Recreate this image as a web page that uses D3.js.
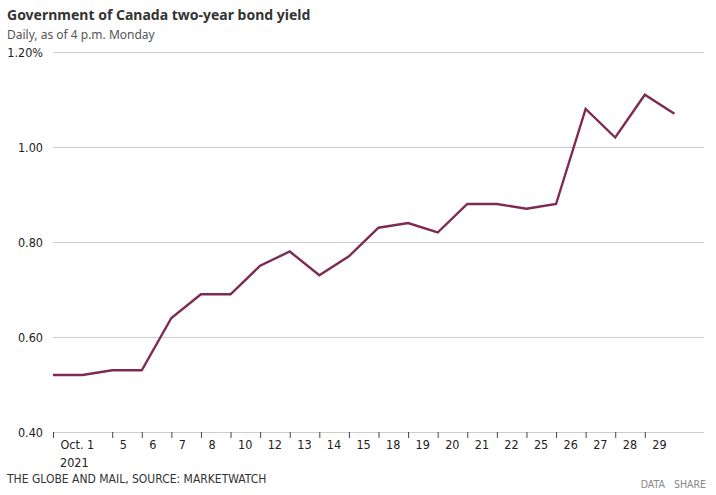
<!DOCTYPE html>
<html>
<head>
<meta charset="utf-8">
<script src="https://cdn.jsdelivr.net/npm/d3@7"></script>
<style>
  body { margin: 0; background: #fff; }
  svg { display: block; }
</style>
</head>
<body>
<div id="chart"></div>
<script>
// daily yields (%), one per trading day in order
const yields = [0.52, 0.52, 0.53, 0.53, 0.64, 0.69, 0.69, 0.75, 0.78, 0.73, 0.77,
                0.83, 0.84, 0.82, 0.88, 0.88, 0.87, 0.88, 1.08, 1.02, 1.11, 1.07];
// tick positions (index into yields) and their labels
const tickIndex = [0, 2, 3, 4, 5, 6, 7, 8, 9, 10, 11, 12, 13, 14, 15, 16, 17, 18, 19, 20];
const tickLabels = ["Oct. 1", "5", "6", "7", "8", "10", "12", "13", "14", "15",
                    "18", "19", "20", "21", "22", "25", "26", "27", "28", "29"];
const yTicks = [0.4, 0.6, 0.8, 1.0, 1.2];

const width = 716, height = 495;
const margin = {top: 52, right: 12, bottom: 63, left: 53};

const svg = d3.select("#chart").append("svg")
    .attr("width", width)
    .attr("height", height)
    .style("font-family", "'Noto Sans', sans-serif");

const x = d3.scaleLinear().domain([0, 22]).range([margin.left, width - margin.right]);
const y = d3.scaleLinear().domain([0.4, 1.2]).range([height - margin.bottom, margin.top]);

// title + subtitle
svg.append("text")
    .attr("x", 7).attr("y", 20)
    .attr("fill", "#333")
    .style("font-size", "14px")
    .style("font-weight", "bold")
    .text("Government of Canada two-year bond yield");

svg.append("text")
    .attr("x", 7).attr("y", 39)
    .attr("fill", "#555")
    .style("font-size", "12px")
    .text("Daily, as of 4 p.m. Monday");

// gridlines + y labels
const yAxis = d3.axisLeft(y)
    .tickValues(yTicks)
    .tickSize(-(width - margin.right - margin.left))
    .tickPadding(10)
    .tickFormat(d => d === 1.2 ? "1.20%" : d3.format(".2f")(d));

svg.append("g")
    .attr("class", "y axis")
    .attr("transform", `translate(${margin.left},0)`)
    .call(yAxis)
    .call(g => g.select(".domain").remove())
    .call(g => g.selectAll("line").attr("stroke", "#ccc"))
    .call(g => g.selectAll("text")
        .attr("fill", "#222")
        .style("font-size", "12.5px")
        .style("font-family", "'DejaVu Sans Condensed', 'DejaVu Sans', sans-serif"));

// x axis ticks with labels to the right of each tick
const xAxis = d3.axisBottom(x)
    .tickValues(tickIndex)
    .tickSize(6)
    .tickFormat((d, i) => tickLabels[i]);

const gx = svg.append("g")
    .attr("class", "x axis")
    .attr("transform", `translate(0,${height - margin.bottom})`)
    .call(xAxis)
    .call(g => g.select(".domain").remove())
    .call(g => g.selectAll("line").attr("stroke", "#444"));

gx.selectAll("text")
    .attr("text-anchor", "start")
    .attr("x", 7)
    .attr("y", 8)
    .attr("fill", "#222")
    .style("font-size", "12.5px")
    .style("font-family", "'DejaVu Sans Condensed', 'DejaVu Sans', sans-serif");

gx.append("text")
    .attr("x", x(0) + 7)
    .attr("y", 35)
    .attr("fill", "#222")
    .attr("text-anchor", "start")
    .style("font-size", "12.5px")
    .style("font-family", "'DejaVu Sans Condensed', 'DejaVu Sans', sans-serif")
    .text("2021");

// the line
const line = d3.line()
    .x((d, i) => x(i))
    .y(d => y(d));

svg.append("path")
    .datum(yields)
    .attr("fill", "none")
    .attr("stroke", "#7d2b53")
    .attr("stroke-width", 2.4)
    .attr("stroke-linejoin", "miter")
    .attr("d", line);

// footer
svg.append("text")
    .attr("x", 7).attr("y", 483)
    .attr("fill", "#333")
    .style("font-size", "12px")
    .style("font-family", "'DejaVu Sans Condensed', 'DejaVu Sans', sans-serif")
    .text("THE GLOBE AND MAIL, SOURCE: MARKETWATCH");

svg.append("text")
    .attr("x", 706).attr("y", 488)
    .attr("fill", "#888")
    .attr("text-anchor", "end")
    .style("font-size", "10.5px")
    .style("font-family", "'DejaVu Sans Condensed', 'DejaVu Sans', sans-serif")
    .text("DATA\u00a0\u00a0\u00a0SHARE");
</script>
</body>
</html>
